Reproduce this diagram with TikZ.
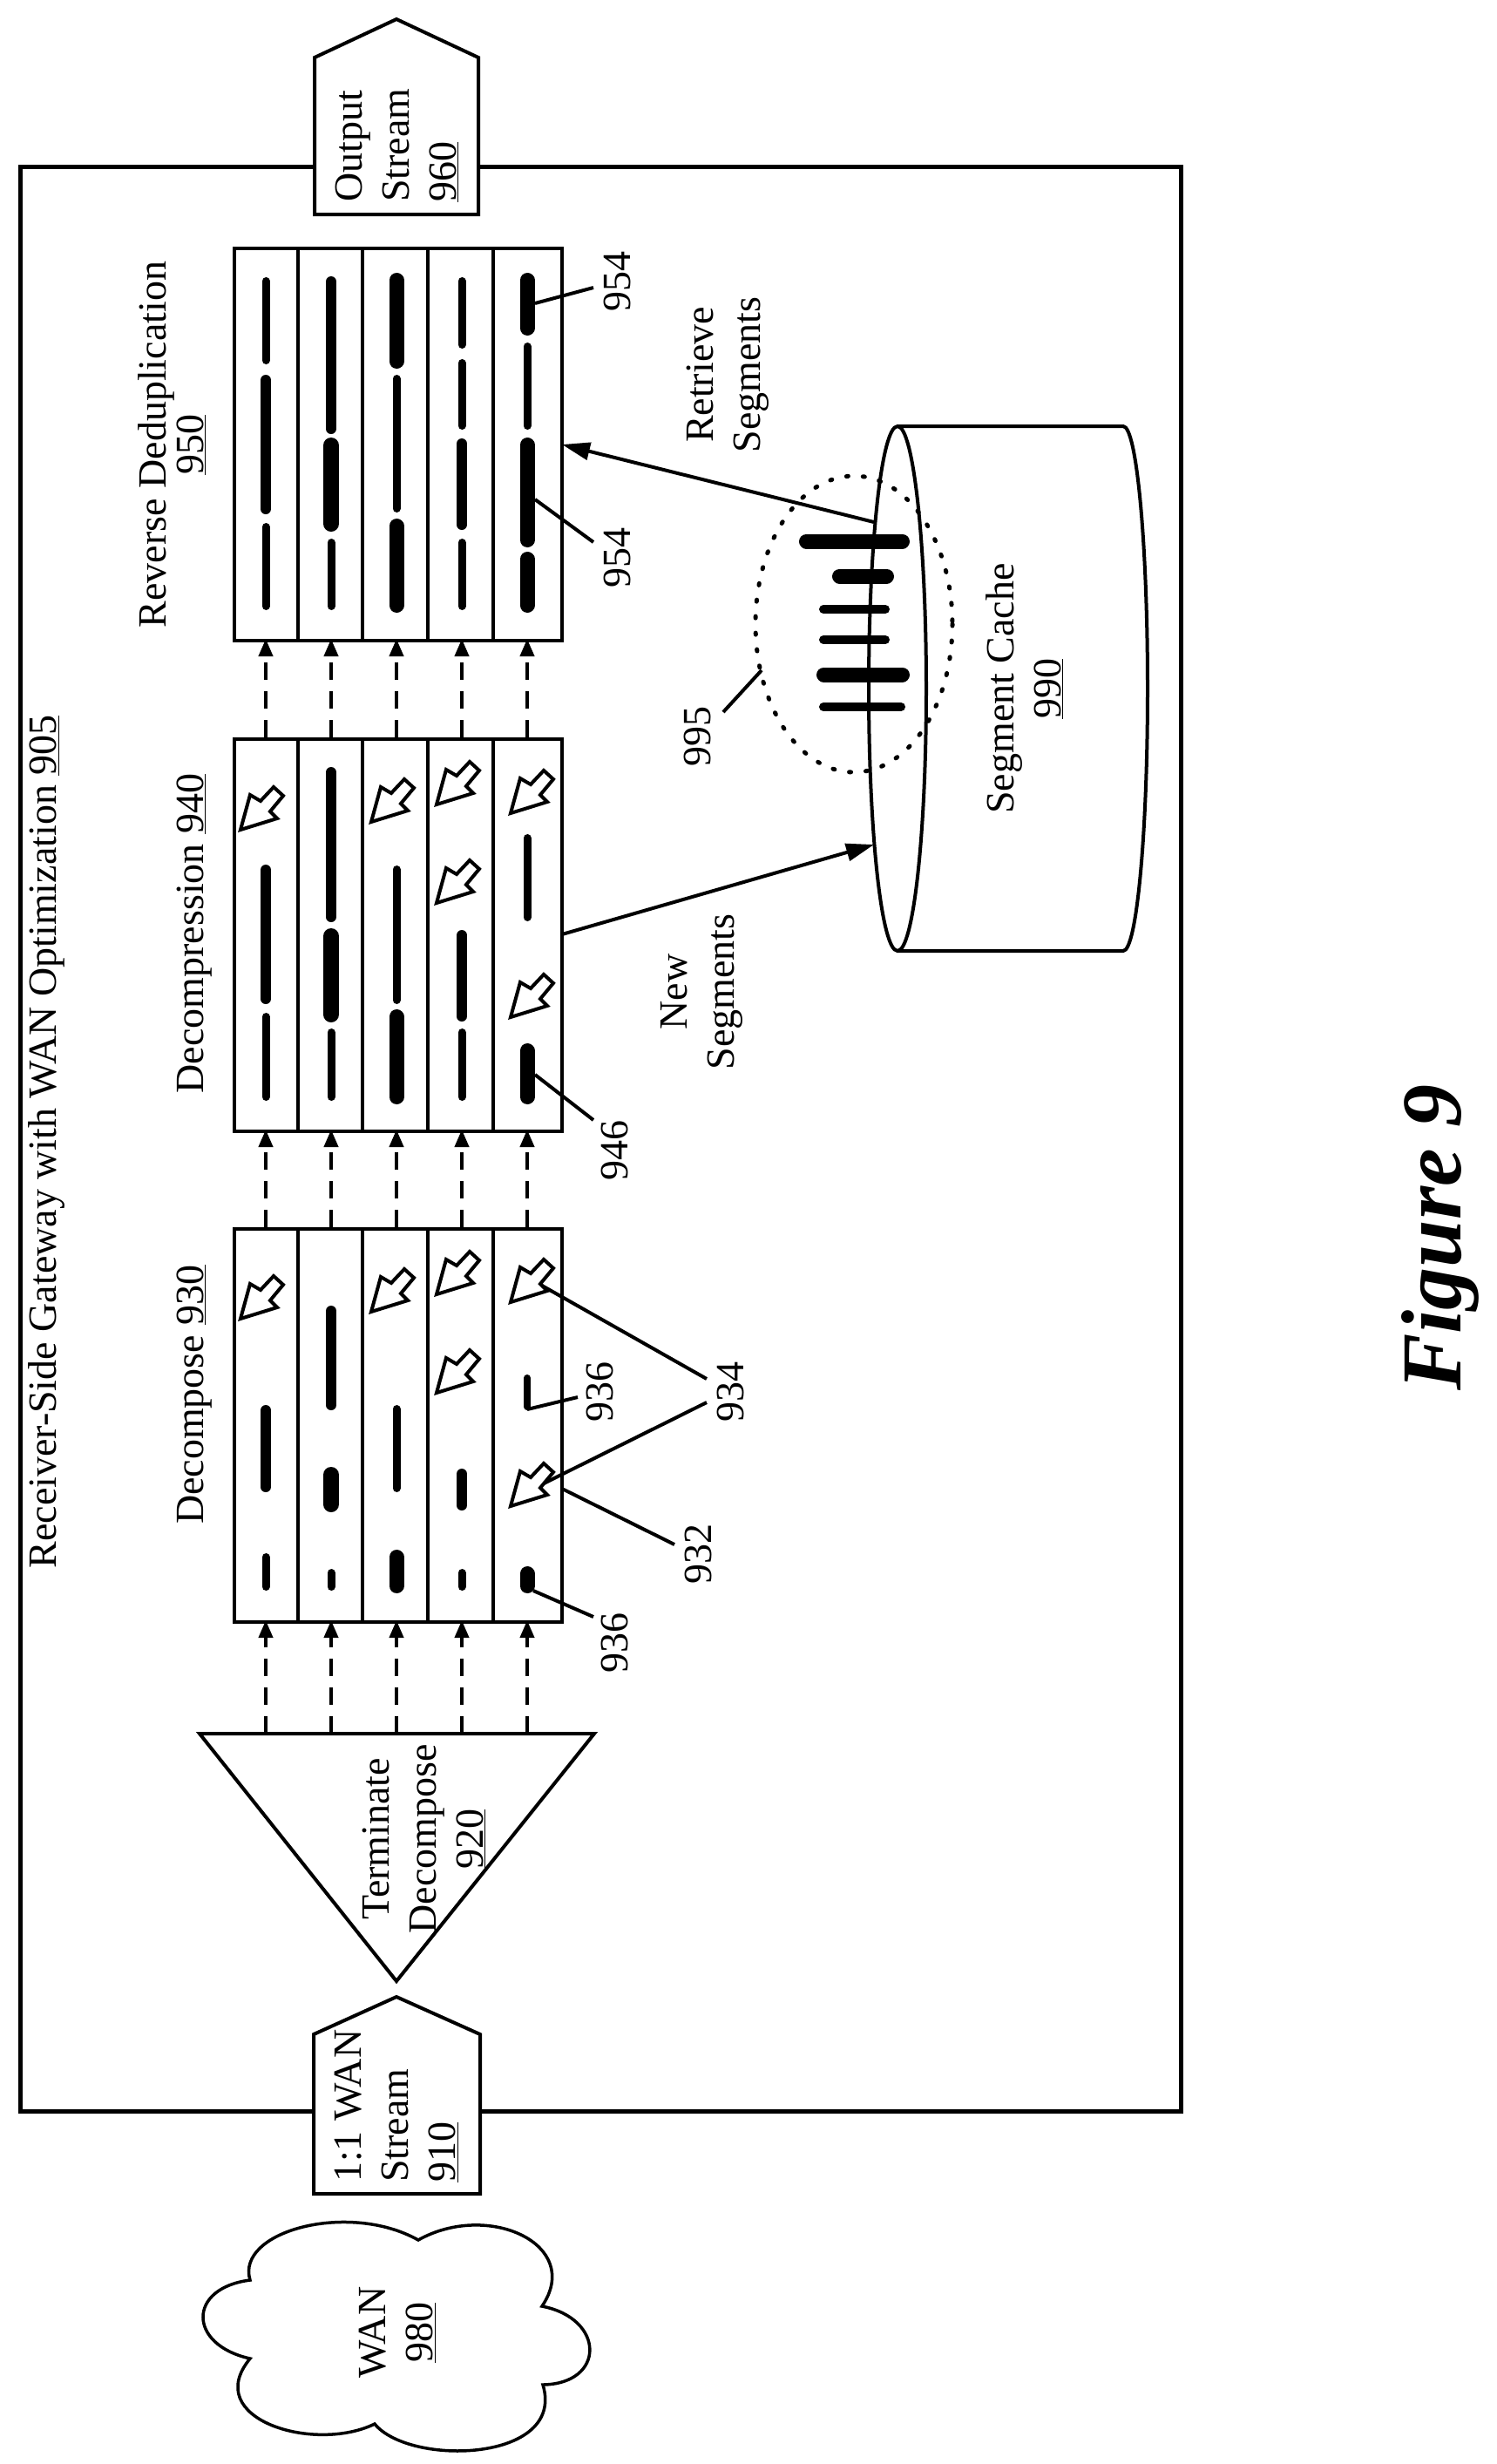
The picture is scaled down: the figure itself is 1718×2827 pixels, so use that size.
\documentclass[tikz,border=0pt]{standalone}
\usepackage{fontspec}
\setmainfont{Liberation Serif}
\usetikzlibrary{arrows.meta}
\newcommand{\seg}[4]{\draw[line width=#4pt,line cap=round] (#1,{#2+#4/2}) -- (#1,{#3-#4/2});}
\newcommand{\harrow}[2]{\draw[line width=4pt,line join=miter,fill=white,shift={(#1,#2)}] (0,0) -- (11,-40) -- (23,-33) -- (38,-49) -- (49,-39) -- (34,-21) -- (42,-13) -- cycle;}
\begin{document}
\begin{tikzpicture}[x=1pt,y=-1pt,
  lbl/.style={font=\fontsize{46}{54}\selectfont,rotate=90,inner sep=0pt},
  box/.style={draw,line width=4pt,anchor=north west,inner sep=0pt,minimum width=376pt},
  lane/.style={line width=4pt,dash pattern=on 20pt off 13pt,-{Triangle[length=20pt,width=16pt]}},
  flow/.style={line width=4pt,-{Triangle[length=32pt,width=20pt]}},
  lead/.style={line width=4pt}]
\useasboundingbox (0,0) rectangle (1718,2827);
% outer box
\draw[line width=5pt] (23,191) rectangle (1355,2422);
\node[lbl] (title) at (54,1310) {Receiver-Side Gateway with WAN Optimization \underline{905}};
% output stream
\draw[line width=4pt,fill=white,line join=miter] (361,246) -- (361,66) -- (455,22) -- (549,66) -- (549,246) -- cycle;
\node[lbl,align=left,anchor=west] (out) at (455,232) {Output\\Stream\\\underline{960}};
% WAN stream
\draw[line width=4pt,fill=white,line join=miter] (360,2517) -- (360,2334) -- (455,2291) -- (551,2334) -- (551,2517) -- cycle;
\node[lbl,align=left,anchor=west] (wans) at (455,2504) {1:1 WAN\\Stream\\\underline{910}};
% cloud
\draw[line width=3.5pt] (287,2616) .. controls (270,2560) and (400,2525) .. (480,2570)
  .. controls (560,2525) and (670,2575) .. (622,2646)
  .. controls (695,2660) and (695,2735) .. (623,2736)
  .. controls (650,2825) and (470,2830) .. (430,2781)
  .. controls (360,2815) and (230,2775) .. (287,2706)
  .. controls (215,2690) and (215,2625) .. cycle;
\node[lbl,align=center] (wan) at (456,2676) {WAN\\\underline{980}};
% triangle
\draw[line width=4pt,line join=miter] (229,1989) -- (682,1989) -- (455,2273) -- cycle;
\node[lbl,align=center] (term) at (486,2110) {Terminate\\Decompose\\\underline{920}};
% boxes
\node[box,minimum height=450pt] (rd) at (267,283) {};
\node[box,minimum height=450pt] (dc) at (267,846) {};
\node[box,minimum height=451pt] (dp) at (267,1408) {};
\foreach \x in {342,416,491,566}{
  \draw[line width=4pt] (\x,283) -- (\x,733);
  \draw[line width=4pt] (\x,846) -- (\x,1296);
  \draw[line width=4pt] (\x,1408) -- (\x,1859);}
\foreach \x [count=\i] in {305,380,455,530,605}{
  \coordinate (t\i) at (\x,1989);
  \coordinate (pb\i) at (\x,1859);
  \coordinate (pt\i) at (\x,1408);
  \coordinate (cb\i) at (\x,1296);
  \coordinate (ct\i) at (\x,846);
  \coordinate (rb\i) at (\x,733);
  \draw[lane] (t\i) -- (pb\i);
  \draw[lane] (pt\i) -- (cb\i);
  \draw[lane] (ct\i) -- (rb\i);}
\node[lbl] (rdl) at (197,510) {\shortstack{Reverse Deduplication\\\underline{950}}};
\node[lbl] (dcl) at (223,1071) {Decompression \underline{940}};
\node[lbl] (dpl) at (223,1600) {Decompose \underline{930}};
% reverse dedup segments
\seg{305}{318}{418}{9}\seg{305}{430}{590}{12}\seg{305}{600}{700}{9}
\seg{380}{317}{498}{12}\seg{380}{502}{610}{18}\seg{380}{618}{700}{9}
\seg{455}{313}{423}{17}\seg{455}{430}{588}{9}\seg{455}{595}{703}{17}
\seg{530}{318}{400}{9}\seg{530}{412}{493}{9}\seg{530}{503}{608}{12}\seg{530}{618}{700}{9}
\seg{605}{313}{385}{17}\seg{605}{393}{493}{9}\seg{605}{502}{628}{17}\seg{605}{633}{703}{17}
% decompression segments
\seg{305}{992}{1152}{12}\seg{305}{1162}{1263}{9}
\seg{380}{880}{1058}{12}\seg{380}{1065}{1173}{18}\seg{380}{1180}{1263}{9}
\seg{455}{993}{1152}{9}\seg{455}{1158}{1267}{17}
\seg{530}{1067}{1172}{12}\seg{530}{1180}{1263}{9}
\seg{605}{957}{1057}{9}\seg{605}{1197}{1267}{17}
\harrow{276}{952}\harrow{426}{943}\harrow{501}{923}\harrow{501}{1036}\harrow{586}{933}\harrow{586}{1167}
% decompose segments
\seg{305}{1612}{1712}{12}\seg{305}{1782}{1825}{9}
\seg{380}{1498}{1618}{12}\seg{380}{1683}{1735}{18}\seg{380}{1800}{1825}{9}
\seg{455}{1612}{1712}{9}\seg{455}{1778}{1828}{17}
\seg{530}{1685}{1733}{12}\seg{530}{1800}{1825}{9}
\seg{605}{1577}{1618}{8}\seg{605}{1797}{1828}{17}
\harrow{276}{1513}\harrow{426}{1505}\harrow{501}{1485}\harrow{501}{1598}\harrow{586}{1494}\harrow{586}{1728}
% cache
\draw[line width=4pt] (1030,489) -- (1289,489) arc[start angle=-90,end angle=90,x radius=28,y radius=301] -- (1030,1091);
\draw[line width=4pt] (1030,790) ellipse[x radius=33,y radius=301];
\node[lbl,align=center] (cache) at (1176,790) {Segment Cache\\\underline{990}};
\draw[line width=5pt,line cap=round,dash pattern=on 2pt off 17pt] (980,716) ellipse[x radius=113,y radius=170];
\foreach \a/\b/\y/\w in {917/1044/621/17,955/1026/661/17,940/1021/699/10,940/1021/734/10,937/1044/774/17,940/1039/811/10}
  \draw[line width=\w pt,line cap=round] ({\a+\w/2},\y) -- ({\b-\w/2},\y);
% flows
\coordinate (ns0) at (645,1072); \coordinate (ns1) at (1003,969);
\coordinate (rs0) at (1003,599); \coordinate (rs1) at (645,510);
\draw[flow] (ns0) -- (ns1);
\draw[flow] (rs0) -- (rs1);
\node[lbl,align=center] (nsl) at (805,1138) {New\\Segments};
\node[lbl,align=center] (rsl) at (835,430) {Retrieve\\Segments};
% reference labels
\node[lbl] (l954a) at (708,323) {954};
\node[lbl] (l954b) at (708,640) {954};
\node[lbl] (l946) at (705,1320) {946};
\node[lbl] (l936a) at (688,1597) {936};
\node[lbl] (l934) at (838,1597) {934};
\node[lbl] (l932) at (801,1783) {932};
\node[lbl] (l936b) at (705,1885) {936};
\node[lbl] (l995) at (800,845) {995};
\draw[lead] (614,348) -- (681,330);
\draw[lead] (614,573) -- (681,622);
\draw[lead] (614,1233) -- (681,1285);
\draw[lead] (605,1617) -- (663,1603);
\draw[lead] (612,1825) -- (681,1855);
\draw[lead] (811,1582) -- (622,1475);
\draw[lead] (811,1609) -- (624,1702);
\draw[lead] (774,1772) -- (645,1708);
\draw[lead] (830,817) -- (874,769);
\node[rotate=90,inner sep=0pt,font=\fontsize{98}{110}\selectfont\bfseries\itshape] (fig) at (1653,1420) {Figure 9};
\end{tikzpicture}
\end{document}
